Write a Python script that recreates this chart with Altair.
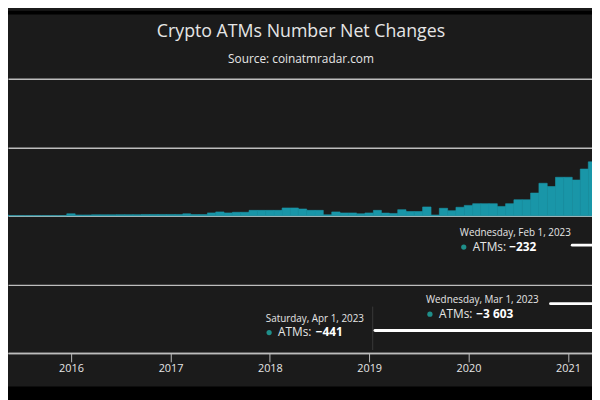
import altair as alt
import pandas as pd

# ---------------- data ----------------
TITLE = "Crypto ATMs Number Net Changes"
SUBTITLE = "Source: coinatmradar.com"

FIRST_YEAR, FIRST_MONTH = 2015, 5          # first visible monthly bar
net_2015 = [25, 5, 5, 5, 5, 5, 5, 5]                                   # May-Dec
net_2016 = [60, 25, 25, 30, 30, 30, 35, 35, 35, 40, 40, 40]
net_2017 = [40, 40, 58, 37, 37, 86, 115, 86, 104, 104, 160, 160]
net_2018 = [160, 160, 230, 230, 200, 160, 160, 30, 115, 85, 85, 60]
net_2019 = [85, 160, 80, 70, 180, 125, 125, 260, 25, 220, 150, 250]
net_2020 = [305, 355, 355, 355, 275, 355, 470, 470, 665, 950, 855, 1125]
net_2021 = [1125, 1045, 1365, 1575]                                    # Jan-Apr

year_ticks = [2016, 2017, 2018, 2019, 2020, 2021]
y_ticks = [-4000, -2000, 0, 2000, 4000]

tip_series = "ATMs:"
tip_dates = ["Wednesday, Feb 1, 2023", "Wednesday, Mar 1, 2023", "Saturday, Apr 1, 2023"]
tip_values = ["\u2212232", "\u22123 603", "\u2212441"]

rows = []
yy, mm = FIRST_YEAR, FIRST_MONTH
for vals in [net_2015, net_2016, net_2017, net_2018, net_2019, net_2020, net_2021]:
    for v in vals:
        rows.append({"year": yy, "month": mm, "atms": v})
        mm += 1
        if mm > 12:
            mm, yy = 1, yy + 1
df = pd.DataFrame(rows)

# ---------------- style ----------------
BG = "#1b1b1b"
BAR = "#1996a8"
GRID = "#bdbdbd"
TEXT = "#e6e6e6"
DOT = "#1f8f8a"
FONT = "Open Sans"
W, H = 592, 278
PAD_TOP = 69

# layout of the hovering labels (plot-area pixels)
TIP_POS = [  # header x, header y, dot x, row y, series x, value x, white-line x, white-line y
    (458, 156.5, 462, 170.7, 471, 508, 572, 168.7),
    (423.7, 224.8, 427.7, 238.7, 437, 474.7, 550, 228),
    (261.3, 243.5, 264.7, 257.3, 273.7, 312, 372, 255.3),
]


def label(text, x, y, size, color=TEXT, weight="normal", align="center"):
    return alt.Chart(alt.Data(values=[{"t": text}])).mark_text(
        align=align, baseline="middle", fontSize=size, fontWeight=weight,
        color=color, font=FONT
    ).encode(x=alt.value(x), y=alt.value(y), text="t:N")


def band(y0, y1, color="#000000"):
    return alt.Chart(alt.Data(values=[{"a": 0}])).mark_rect(color=color).encode(
        x=alt.value(-20), x2=alt.value(W + 20), y=alt.value(y0), y2=alt.value(y1)
    )


x_scale = alt.Scale(domain=[alt.DateTime(year=2015, month=5, date=14, hours=12),
                            alt.DateTime(year=2021, month=3, date=30, hours=3)])

bars = alt.Chart(df).transform_calculate(
    start="(time(datetime(datum.year, datum.month - 1, 1)) + time(datetime(datum.year, datum.month - 2, 1))) / 2",
    end="(time(datetime(datum.year, datum.month - 1, 1)) + time(datetime(datum.year, datum.month, 1))) / 2",
).mark_bar(color=BAR, stroke=BAR, strokeWidth=0.6, clip=True).encode(
    x=alt.X("start:T", scale=x_scale, title=None,
            axis=alt.Axis(values=[alt.DateTime(year=y, month=1, date=1) for y in year_ticks],
                          format="%Y", grid=False, domainColor=GRID, domainWidth=1.5,
                          tickColor=GRID, tickSize=9, tickWidth=1, labelColor=TEXT,
                          labelFontSize=11, labelFont=FONT, labelPadding=1)),
    x2="end:T",
    y=alt.Y("atms:Q", scale=alt.Scale(domain=[-4000, 4000], nice=False, zero=True), title=None,
            axis=alt.Axis(values=y_ticks, labels=False, ticks=False, domain=False,
                          grid=True, gridColor=GRID, gridWidth=1.5)),
    y2=alt.datum(0),
)

layers = [band(-PAD_TOP, -PAD_TOP + 4), band(312, 340), bars]

# thin crosshair-like guide
layers.append(alt.Chart(alt.Data(values=[{"a": 0}])).mark_rule(color="#3a3a3a", strokeWidth=1).encode(
    x=alt.value(369.7), y=alt.value(231), y2=alt.value(275)))

# title & subtitle
layers.append(label(TITLE, 297, -47.7, 18))
layers.append(label(SUBTITLE, 297, -20.3, 12))

for i, (hx, hy, dx, ry, sx, vx, lx, ly) in enumerate(TIP_POS):
    layers.append(alt.Chart(alt.Data(values=[{"a": 0}])).mark_rule(
        color="#ffffff", strokeWidth=3, strokeCap="round").encode(
        x=alt.value(lx), x2=alt.value(W + 30), y=alt.value(ly)))
    layers.append(label(tip_dates[i], hx, hy, 10, align="left"))
    layers.append(alt.Chart(alt.Data(values=[{"a": 0}])).mark_circle(
        color=DOT, opacity=1, size=28).encode(x=alt.value(dx), y=alt.value(ry)))
    layers.append(label(tip_series, sx, ry, 12, align="left"))
    layers.append(label(tip_values[i], vx, ry, 12, color="#ffffff", weight="bold", align="left"))

chart = alt.layer(*layers).properties(
    width=W, height=H,
    autosize=alt.AutoSizeParams(type="none"),
    padding={"left": 0, "right": 0, "top": PAD_TOP, "bottom": 392 - PAD_TOP - H},
    background=BG,
).configure_view(stroke=None)

chart.save("out.html", embed_options={"renderer": "svg", "actions": False})
